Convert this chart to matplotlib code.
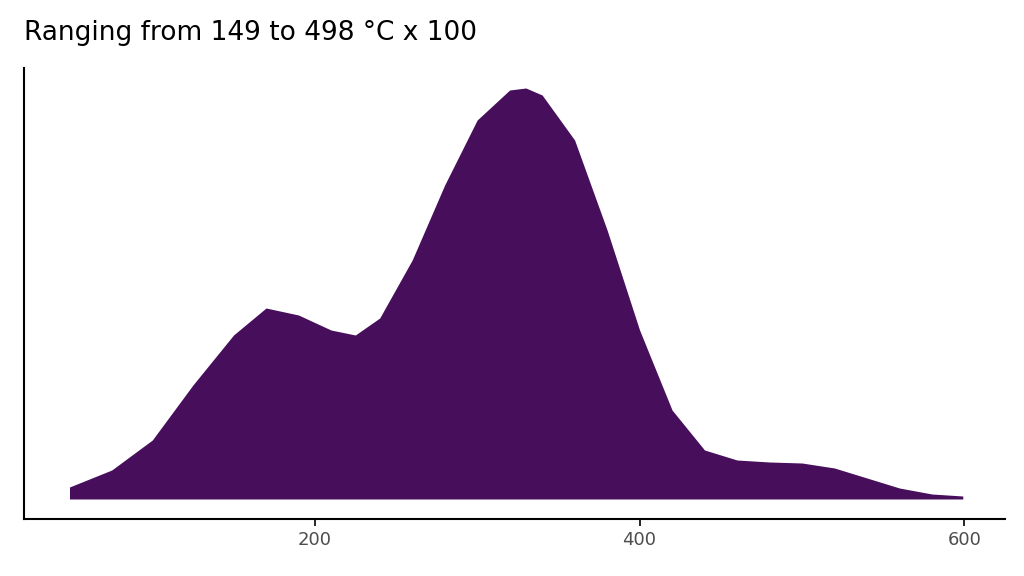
import matplotlib
matplotlib.use("Agg")
import matplotlib.pyplot as plt

x_vals = [49, 75, 100, 125, 150, 170, 190, 210, 225, 240, 260, 280, 300, 320, 330, 340, 360, 380, 400, 420, 440, 460, 480, 500, 520, 540, 560, 580, 599]
density = [12, 29, 59, 114, 164, 191, 184, 169, 164, 181, 239, 314, 379, 409, 411, 404, 359, 269, 169, 89, 49, 39, 37, 36, 31, 21, 11, 5, 3]
x_ticks = [200, 400, 600]

fig = plt.figure(figsize=(10.24, 5.76), dpi=100)
ax = fig.add_axes([24/1024, 1-519/576, (1005-24)/1024, (519-68)/576])
ax.fill_between(x_vals, 0, density, color="#470E5C", linewidth=0)
ax.set_xlim(21, 625)
ax.set_ylim(-20, 431)
ax.set_xticks(x_ticks)
ax.set_yticks([])
for s in ["top", "right"]:
    ax.spines[s].set_visible(False)
for s in ["left", "bottom"]:
    ax.spines[s].set_linewidth(1.5)
ax.tick_params(axis="x", labelsize=13, colors="#4d4d4d", length=5, width=1.2)
ax.tick_params(axis="x", color="black")
fig.text(24/1024, 1-33/576, "Ranging from 149 to 498 °C x 100", fontsize=19, va="center", ha="left")
fig.savefig("out.png", dpi=100)
